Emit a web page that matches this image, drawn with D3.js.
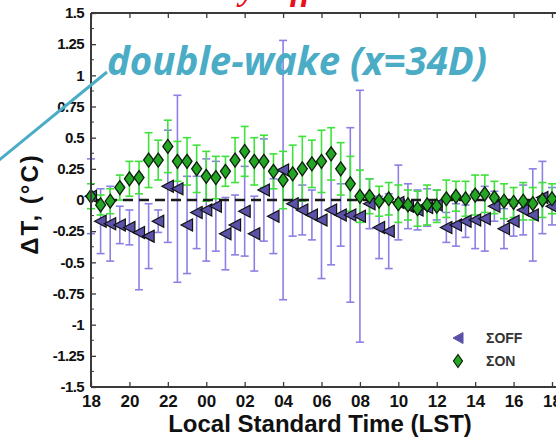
<!DOCTYPE html>
<html><head><meta charset="utf-8">
<script src="https://cdn.jsdelivr.net/npm/d3@7"></script>
<style>html,body{margin:0;padding:0;background:#fff;}svg{display:block;}</style>
</head><body>
<script>
// ---- data ----
const times = [18.0,18.5,19.0,19.5,20.0,20.5,21.0,21.5,22.0,22.5,23.0,23.5,24.0,24.5,25.0,25.5,26.0,26.5,27.0,27.5,28.0,28.5,29.0,29.5,30.0,30.5,31.0,31.5,32.0,32.5,33.0,33.5,34.0,34.5,35.0,35.5,36.0,36.5,37.0,37.5,38.0,38.5,39.0,39.5,40.0,40.5,41.0,41.5,42.0];
const onValues = [0.03,-0.04,-0.01,0.10,0.17,0.18,0.32,0.32,0.43,0.31,0.31,0.25,0.19,0.18,0.23,0.32,0.39,0.31,0.31,0.23,0.16,0.21,0.25,0.29,0.31,0.37,0.25,0.13,0.03,0.03,-0.01,0.01,-0.03,-0.04,-0.07,-0.04,-0.05,0.01,0.03,0.01,0.04,0.05,0.02,-0.01,-0.02,-0.01,-0.03,0.00,0.01];
const onErrors = [0.10,0.08,0.10,0.10,0.14,0.13,0.22,0.16,0.21,0.16,0.19,0.19,0.20,0.17,0.12,0.18,0.20,0.19,0.21,0.14,0.23,0.23,0.26,0.19,0.25,0.21,0.21,0.22,0.21,0.14,0.12,0.13,0.15,0.12,0.14,0.16,0.13,0.15,0.12,0.14,0.16,0.15,0.13,0.14,0.12,0.15,0.13,0.14,0.12];
const offValues = [0.03,-0.17,-0.19,-0.20,-0.22,-0.26,-0.29,-0.17,0.11,0.09,-0.20,-0.10,-0.08,-0.05,-0.27,-0.20,-0.09,-0.27,0.08,-0.13,0.24,-0.03,-0.08,-0.12,-0.16,-0.08,-0.12,-0.12,-0.13,-0.03,-0.22,-0.25,-0.02,-0.05,-0.08,-0.06,-0.04,-0.22,-0.20,-0.17,-0.16,-0.15,-0.05,-0.23,-0.17,-0.08,-0.12,0.02,-0.05];
const offErrors = [0.30,0.26,0.30,0.15,0.14,0.46,0.26,0.09,0.45,0.75,0.39,0.29,0.41,0.36,0.29,0.24,0.36,0.30,0.41,0.30,1.04,0.26,0.20,0.20,0.47,0.44,0.25,0.70,1.01,0.20,0.25,0.30,0.30,0.18,0.16,0.15,0.12,0.12,0.17,0.13,0.23,0.26,0.12,0.16,0.12,0.20,0.37,0.29,0.15];
const xTicks = [18,20,22,24,26,28,30,32,34,36,38,40,42];
const xTickLabels = ["18","20","22","00","02","04","06","08","10","12","14","16","18"];
const yTicks = [1.5,1.25,1,0.75,0.5,0.25,0,-0.25,-0.5,-0.75,-1,-1.25,-1.5];
const yTickLabels = ["1.5","1.25","1","0.75","0.5","0.25","0","-0.25","-0.5","-0.75","-1","-1.25","-1.5"];
const yMinorTicks = [1.375,1.125,0.875,0.625,0.375,0.125,-0.125,-0.375,-0.625,-0.875,-1.125,-1.375];
const seriesNames = ["\u03A3OFF","\u03A3ON"];

// ---- drawing ----
const W = 556, H = 439;
const svg = d3.select("body").append("svg").attr("width", W).attr("height", H);
const x = d3.scaleLinear().domain([18, 42]).range([91, 552]);
const y = d3.scaleLinear().domain([-1.5, 1.5]).range([387, 13]);
const axisColor = "#3a3a3a";
const font = "'Liberation Sans', Arial, sans-serif";

// red title (mostly cut off at the top, as in the reference)
const title = svg.append("text").text("anomaly difference")
  .attr("y", 0).attr("fill", "#e8101a")
  .style("font-family", "'Liberation Serif', serif").style("font-weight", "bold")
  .style("font-style", "italic").style("font-size", "34px");
const yi = "anomaly difference".indexOf("y");
const startY = title.node().getStartPositionOfChar(yi).x;
title.attr("x", 240 - startY);

const offData = times.map((t, i) => ({t, v: offValues[i], e: offErrors[i]}));
const onData = times.map((t, i) => ({t, v: onValues[i], e: onErrors[i]}));

function errBars(data, color, cls) {
  const g = svg.append("g").attr("class", cls).attr("stroke", color).attr("stroke-width", 1.6).attr("fill", "none");
  data.forEach(d => {
    const cx = x(d.t), y1 = y(d.v + d.e), y2 = y(d.v - d.e);
    g.append("line").attr("x1", cx).attr("x2", cx).attr("y1", y1).attr("y2", y2);
    g.append("line").attr("x1", cx - 4).attr("x2", cx + 4).attr("y1", y1).attr("y2", y1);
    g.append("line").attr("x1", cx - 4).attr("x2", cx + 4).attr("y1", y2).attr("y2", y2);
  });
}
errBars(offData, "#8b80e4", "offbars");
errBars(onData, "#3fe23a", "onbars");

// zero dashed line
svg.append("line").attr("x1", x(18)).attr("x2", W + 10).attr("y1", y(0)).attr("y2", y(0))
  .attr("stroke", "#1a1a1a").attr("stroke-width", 2.4).attr("stroke-dasharray", "10,6");

const triPath = "M-6,0 L5.5,-6 L5.5,6 Z";
const diaPath = "M0,-7 L5,0 L0,7 L-5,0 Z";
svg.append("g").selectAll("path").data(offData).join("path")
  .attr("d", triPath).attr("transform", d => `translate(${x(d.t)},${y(d.v)})`)
  .attr("fill", "#5a52a8").attr("stroke", "#111").attr("stroke-width", 1.2);
svg.append("g").selectAll("path").data(onData).join("path")
  .attr("d", diaPath).attr("transform", d => `translate(${x(d.t)},${y(d.v)})`)
  .attr("fill", "#24a524").attr("stroke", "#0b1f0b").attr("stroke-width", 1.3);

// axes
const yAxis = d3.axisLeft(y).tickValues(yTicks).tickSize(-5).tickPadding(7)
  .tickFormat((d, i) => yTickLabels[i]);
const gy = svg.append("g").attr("transform", `translate(${x(18)},0)`).call(yAxis);
gy.select(".domain").remove();
gy.selectAll("line").attr("stroke", axisColor).attr("stroke-width", 1.3);
gy.selectAll("text").style("font-family", font).style("font-weight", "bold")
  .style("font-size", "15px").attr("fill", "#111").style("letter-spacing", "-0.6px");
svg.append("g").selectAll("line").data(yMinorTicks).join("line")
  .attr("x1", x(18)).attr("x2", x(18) + 3).attr("y1", d => y(d)).attr("y2", d => y(d))
  .attr("stroke", axisColor).attr("stroke-width", 1);

const xAxis = d3.axisBottom(x).tickValues(xTicks).tickSize(-5).tickPadding(8)
  .tickFormat((d, i) => xTickLabels[i]);
const gx = svg.append("g").attr("transform", `translate(0,${y(-1.5)})`).call(xAxis);
gx.select(".domain").remove();
gx.selectAll("line").attr("stroke", axisColor).attr("stroke-width", 1.3);
gx.selectAll("text").style("font-family", font).style("font-weight", "bold")
  .style("font-size", "17px").attr("fill", "#111");

const xTop = d3.axisTop(x).tickValues(xTicks).tickSize(-5).tickFormat("");
const gt = svg.append("g").attr("transform", `translate(0,${y(1.5)})`).call(xTop);
gt.select(".domain").remove();
gt.selectAll("line").attr("stroke", axisColor).attr("stroke-width", 1.3);

// frame lines
svg.append("line").attr("x1", x(18)).attr("x2", x(18)).attr("y1", y(1.5)).attr("y2", y(-1.5))
  .attr("stroke", axisColor).attr("stroke-width", 2);
svg.append("line").attr("x1", x(18)).attr("x2", W + 5).attr("y1", y(-1.5)).attr("y2", y(-1.5))
  .attr("stroke", axisColor).attr("stroke-width", 2);
svg.append("line").attr("x1", x(18)).attr("x2", W + 5).attr("y1", y(1.5)).attr("y2", y(1.5))
  .attr("stroke", axisColor).attr("stroke-width", 2);

// axis titles
svg.append("text").text("Local Standard Time (LST)")
  .attr("x", 320).attr("y", 432).attr("text-anchor", "middle")
  .style("font-family", font).style("font-weight", "bold").style("font-size", "24px").attr("fill", "#111");
svg.append("text").text("\u0394T, (\u00B0C)")
  .attr("transform", "translate(38,204) rotate(-90)").attr("text-anchor", "middle")
  .style("font-family", font).style("font-weight", "bold").style("font-size", "24px")
  .style("letter-spacing", "2px").attr("fill", "#111");

// legend
const leg = svg.append("g");
leg.append("path").attr("d", "M-5,0 L5,-5.5 L5,5.5 Z").attr("transform", "translate(458,338)")
  .attr("fill", "#5a52a8").attr("stroke", "#5a52a8").attr("stroke-width", 1);
leg.append("path").attr("d", "M0,-6.5 L4.5,0 L0,6.5 L-4.5,0 Z").attr("transform", "translate(458,361)")
  .attr("fill", "#24a524").attr("stroke", "#0b1f0b").attr("stroke-width", 1.2);
leg.selectAll("text").data(seriesNames).join("text").text(d => d)
  .attr("x", 486).attr("y", (d, i) => 343 + i * 23)
  .style("font-family", font).style("font-weight", "bold").style("font-size", "14px").attr("fill", "#333");

// annotation
svg.append("line").attr("x1", 107).attr("y1", 72).attr("x2", -2).attr("y2", 161)
  .attr("stroke", "#4bacc6").attr("stroke-width", 3);
const ann = svg.append("text").text("double-wake (x=34D)")
  .attr("x", 107).attr("y", 75).attr("fill", "#4bacc6")
  .style("font-family", "'Open Sans', sans-serif").style("font-weight", "bold")
  .style("font-style", "italic").style("font-size", "34px");
const aw = ann.node().getComputedTextLength();
ann.style("font-size", (34 * 380 / aw).toFixed(2) + "px");
</script>
</body></html>
